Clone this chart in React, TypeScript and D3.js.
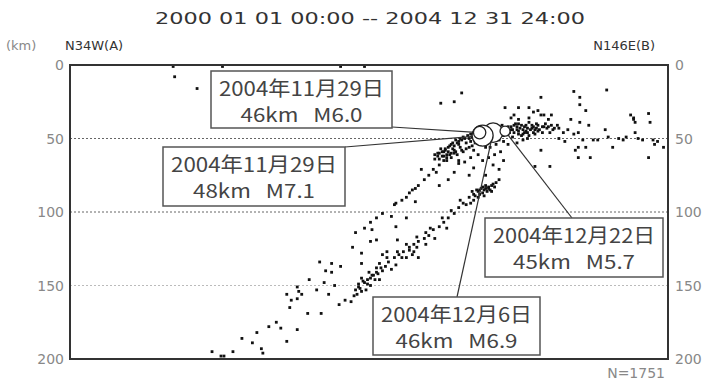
import React from "react";
import * as d3 from "d3";

// period shown in the title
const periodLabel = "2000 01 01 00:00 -- 2004 12 31 24:00";
const endLabels = ["N34W(A)", "N146E(B)"];
const depthTicks = [0, 50, 100, 150, 200];
const eventCount = 1751;

// hypocentres: [distance along profile (km), depth (km)]
const quakes = [
  [69, 1], [102, 1], [181, 1], [197, 1], [70, 8], [85, 16],
  [248, 26], [257, 25], [262, 19], [291, 29], [300, 29], [307, 29], [315, 22],
  [337, 18], [359, 17], [341, 22], [341, 27], [345, 31], [335, 37], [341, 39],
  [347, 41], [375, 34], [378, 39], [387, 33], [388, 39], [378, 46], [358, 44],
  [360, 49], [353, 51], [327, 50], [331, 52], [340, 46], [340, 56], [345, 56],
  [348, 63], [338, 58], [367, 50], [372, 49], [380, 50], [391, 54], [397, 56],
  [387, 63], [363, 56], [315, 34], [317, 42], [322, 34], [315, 58], [321, 69],
  [311, 69], [340, 63], [377, 36], [377, 37], [390, 51], [393, 52], [383, 51],
  [370, 51], [350, 51], [333, 44], [337, 47], [343, 51],
  // main cluster
  [251, 58], [253, 56], [255, 54], [257, 55], [259, 53], [260, 52], [262, 51],
  [264, 50], [267, 50], [269, 49], [271, 48], [273, 47], [275, 46], [278, 45],
  [280, 44], [283, 43], [287, 42], [289, 41], [291, 43], [293, 42], [295, 42],
  [297, 41], [299, 42], [301, 43], [303, 44], [305, 41], [307, 39], [309, 43],
  [311, 44], [313, 41], [319, 43], [321, 46], [323, 44], [293, 47], [297, 46],
  [300, 47], [304, 46], [307, 48], [310, 46], [287, 51], [290, 52], [285, 54],
  [281, 56], [278, 56], [275, 54], [267, 56], [270, 58], [263, 59], [259, 61],
  [255, 63], [252, 65], [249, 62], [247, 60], [260, 65], [264, 66], [268, 63],
  [273, 61], [276, 65], [280, 63], [284, 61], [288, 59], [293, 54], [299, 53],
  [303, 51], [300, 37], [297, 34], [295, 36], [307, 36], [310, 32], [313, 31],
  [317, 34], [320, 37], [322, 41], [327, 43], [330, 46], [260, 54], [257, 58],
  [253, 59], [250, 59], [261, 56], [265, 53], [268, 52], [272, 51], [290, 48],
  [295, 44], [299, 44], [305, 45], [309, 41], [312, 40], [248, 57], [252, 61],
  [256, 57], [258, 59], [246, 62], [244, 64], [302, 48], [306, 50], [296, 49],
  [246, 60], [249, 59], [251, 57], [254, 55], [256, 53], [258, 51], [261, 50],
  [263, 49], [266, 48], [268, 47], [244, 61], [247, 64], [250, 62], [254, 61],
  [257, 60], [262, 58], [265, 57], [269, 55], [271, 53], [274, 50],
  [300, 40], [302, 41], [304, 42], [306, 43], [308, 44], [310, 42], [312, 43],
  [314, 44], [316, 42], [318, 40], [320, 42], [324, 43], [326, 41], [298, 40],
  [296, 44], [294, 46], [300, 45], [303, 47], [306, 46], [311, 47], [313, 45],
  [316, 46], [292, 45], [289, 46],
  // between the two bands
  [235, 71], [245, 73], [260, 67], [267, 75], [278, 75], [247, 82], [253, 78],
  [257, 73], [270, 70], [283, 68], [287, 71], [290, 65],
  // lower band
  [191, 153], [193, 151], [195, 154], [197, 148], [199, 146], [201, 145],
  [203, 143], [205, 141], [208, 138], [211, 137], [213, 134], [217, 131],
  [220, 129], [223, 127], [227, 124], [230, 122], [233, 120], [237, 118],
  [240, 116], [243, 112], [247, 110], [250, 107], [253, 104], [257, 101],
  [260, 97], [263, 94], [267, 90], [270, 88], [273, 86], [277, 85], [280, 83],
  [275, 84], [272, 85], [279, 86], [269, 86], [283, 81], [287, 78], [282, 82],
  [261, 92], [265, 95], [255, 99], [249, 104], [241, 111], [232, 117],
  [225, 122], [219, 127], [212, 131], [205, 138], [200, 141], [195, 145],
  [190, 157], [188, 161], [198, 153], [201, 150], [207, 146], [215, 139],
  [218, 136], [225, 131], [230, 127], [238, 122], [244, 118], [252, 111],
  [276, 87], [278, 84], [274, 88], [281, 85], [271, 89],
  [274, 85], [276, 83], [278, 82], [280, 84], [282, 86], [284, 83], [285, 80],
  [277, 89], [273, 90], [270, 92], [268, 94],
  [193, 149], [196, 147], [199, 149], [202, 143], [204, 146], [206, 142],
  [209, 140], [192, 156], [194, 152],
  // upper band
  [218, 94], [222, 92], [225, 90], [227, 87], [229, 85], [231, 84], [233, 82],
  [237, 78], [240, 75], [243, 71], [247, 68], [250, 65], [252, 63], [255, 60],
  [209, 101], [205, 104], [201, 107], [197, 111], [191, 114], [217, 95],
  [215, 103], [225, 104], [231, 93], [202, 112], [218, 110], [201, 120],
  [205, 119], [219, 119], [189, 124], [195, 128], [209, 129], [212, 127],
  [227, 126], [232, 124], [238, 114], [167, 134], [175, 135], [181, 137],
  [171, 140], [175, 141], [195, 135], [207, 135], [222, 131], [233, 131],
  [229, 129],
  // deep, south-west end
  [152, 151], [153, 154], [145, 156], [148, 160], [155, 156], [152, 159],
  [147, 165], [159, 169], [168, 169], [165, 153], [170, 148], [133, 178],
  [138, 175], [141, 179], [152, 180], [115, 186], [125, 182], [122, 189],
  [128, 193], [129, 196], [145, 188], [95, 195], [103, 198], [109, 195],
  [101, 198], [184, 160], [180, 163], [177, 150], [173, 156], [160, 146],
];

// largest events
const mainDates = ["2004年11月29日", "2004年11月29日", "2004年12月22日", "2004年12月6日"];
const mainDist = [276, 274, 291, 283];
const mainDepth = [48, 46, 45, 46];
const mainMag = [7.1, 6.0, 5.7, 6.9];

// callout boxes, pixel layout: [left, top, width, height, anchorX, anchorY]
const boxLayout = [
  [163, 147, 182, 59, 345, 147],
  [211, 71, 181, 57, 392, 127],
  [485, 218, 178, 59, 572, 218],
  [373, 297, 167, 58, 457, 297],
];

const W = 709, H = 383;
const m = { left: 70, right: 668, top: 65, bottom: 359 };

export default function App() {
  const x = d3.scaleLinear().domain([0, 400]).range([m.left, m.right]);
  const y = d3.scaleLinear().domain([0, 200]).range([m.top, m.bottom]);
  const r = d3.scaleLinear().domain([5.7, 7.1]).range([5, 10.5]);
  const gray = "#555";
  const tickFont = { fontFamily: "DejaVu Sans", fontSize: 14, fill: "#888" };

  return (
    <svg width={W} height={H} style={{ position: "absolute", left: 0, top: 0, background: "#fff" }}>
      <text x={370} y={24} textAnchor="middle" textLength={430} lengthAdjust="spacingAndGlyphs"
        style={{ fontFamily: "DejaVu Sans", fontSize: 15, fill: "#333", whiteSpace: "pre" }}>
        {periodLabel}
      </text>
      <text x={6} y={50} style={{ ...tickFont, fontSize: 13 }}>(km)</text>
      <text x={65} y={50} style={{ fontFamily: "DejaVu Sans", fontSize: 13, fill: "#333" }}>{endLabels[0]}</text>
      <text x={655} y={50} textAnchor="end" style={{ fontFamily: "DejaVu Sans", fontSize: 13, fill: "#333" }}>{endLabels[1]}</text>

      {depthTicks.slice(1, -1).map((t) => (
        <line key={t} x1={m.left} x2={m.right} y1={y(t)} y2={y(t)}
          stroke={t === 150 ? "#bbb" : "#666"} strokeWidth={1} strokeDasharray="2,2" />
      ))}
      {depthTicks.map((t) => (
        <g key={"t" + t}>
          <text x={m.left - 6} y={y(t) + 5} textAnchor="end" style={tickFont}>{t}</text>
          <text x={m.right + 7} y={y(t) + 5} style={tickFont}>{t}</text>
        </g>
      ))}

      {quakes.map((d, i) => (
        <rect key={i} x={x(d[0]) - 1.4} y={y(d[1]) - 1.4} width={2.8} height={2.8} fill="#111" />
      ))}

      {boxLayout.map((b, i) => (
        <line key={"l" + i} x1={b[4]} y1={b[5]} x2={x(mainDist[i])} y2={y(mainDepth[i])}
          stroke="#333" strokeWidth={1.2} />
      ))}

      {[3, 0, 1, 2].map((i) => (
        <circle key={"c" + i} cx={x(mainDist[i])} cy={y(mainDepth[i])} r={r(mainMag[i])}
          fill="#fff" stroke="#222" strokeWidth={1.3} />
      ))}

      <rect x={m.left} y={m.top} width={m.right - m.left} height={m.bottom - m.top}
        fill="none" stroke="#333" strokeWidth={2} />

      {boxLayout.map((b, i) => (
        <g key={"b" + i}>
          <rect x={b[0]} y={b[1]} width={b[2]} height={b[3]} fill="#fff" stroke={gray} strokeWidth={1.5} />
          <text x={b[0] + b[2] / 2} y={b[1] + 25} textAnchor="middle"
            textLength={b[2] - 16} lengthAdjust="spacingAndGlyphs"
            style={{ fontFamily: "Noto Sans CJK JP", fontSize: 20, fill: "#444" }}>
            {mainDates[i]}
          </text>
          <text x={b[0] + b[2] / 2} y={b[1] + 51} textAnchor="middle"
            textLength={122} lengthAdjust="spacingAndGlyphs"
            style={{ fontFamily: "Noto Sans CJK JP", fontSize: 19, fill: "#444", whiteSpace: "pre" }}>
            {`${mainDepth[i]}km   M${mainMag[i].toFixed(1)}`}
          </text>
        </g>
      ))}

      <text x={665} y={378} textAnchor="end" style={tickFont}>N={eventCount}</text>
    </svg>
  );
}
